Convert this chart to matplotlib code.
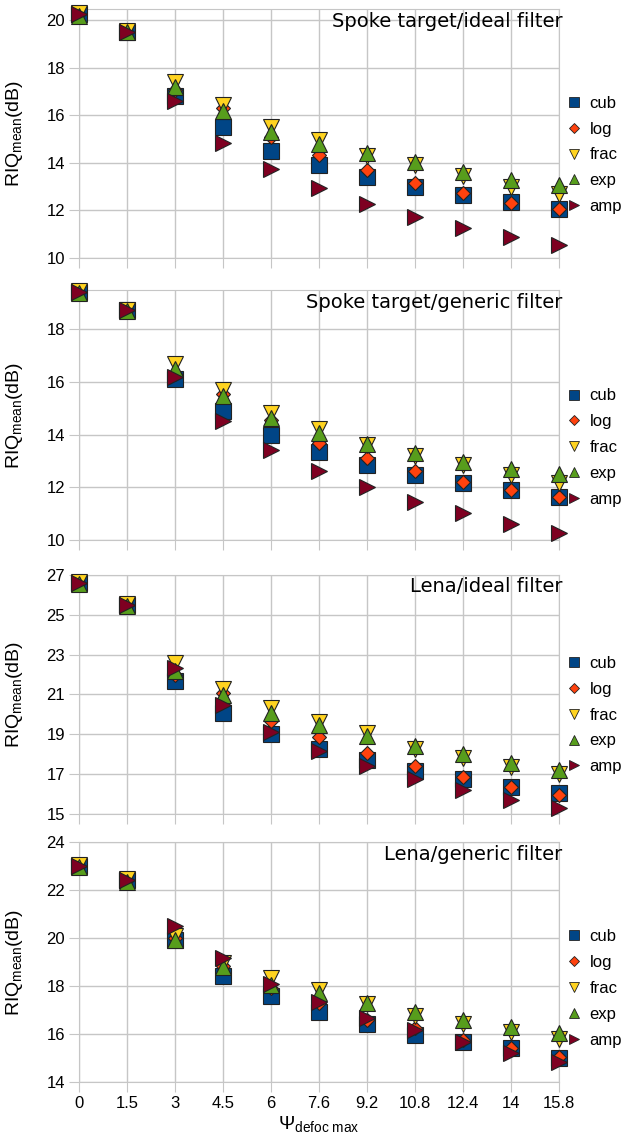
import numpy as np
import matplotlib.pyplot as plt
from matplotlib.lines import Line2D

plt.rcParams['font.family'] = ['Liberation Sans', 'DejaVu Sans']
plt.rcParams['mathtext.fontset'] = 'custom'
plt.rcParams['mathtext.rm'] = 'Liberation Sans'
plt.rcParams['mathtext.it'] = 'Liberation Sans:italic'

x_labels = ['0', '1.5', '3', '4.5', '6', '7.6', '9.2', '10.8', '12.4', '14', '15.8']
series_names = ['cub', 'log', 'frac', 'exp', 'amp']

# spoke target / ideal filter
spoke_ideal_cub = [20.25, 19.5, 16.8, 15.5, 14.5, 13.9, 13.42, 13.0, 12.65, 12.36, 12.06]
spoke_ideal_log = [20.25, 19.5, 17.05, 16.3, 15.1, 14.34, 13.7, 13.17, 12.73, 12.33, 12.06]
spoke_ideal_frac = [20.3, 19.55, 17.4, 16.45, 15.5, 14.97, 14.3, 13.9, 13.45, 13.0, 12.7]
spoke_ideal_exp = [20.2, 19.5, 17.2, 16.2, 15.3, 14.8, 14.4, 14.02, 13.63, 13.3, 13.07]
spoke_ideal_amp = [20.25, 19.52, 16.6, 14.86, 13.74, 12.93, 12.27, 11.73, 11.26, 10.9, 10.55]

# spoke target / generic filter
spoke_gen_cub = [19.4, 18.72, 16.1, 14.88, 14.0, 13.35, 12.86, 12.48, 12.17, 11.9, 11.64]
spoke_gen_log = [19.4, 18.72, 16.3, 15.55, 14.57, 13.7, 13.12, 12.63, 12.2, 11.9, 11.64]
spoke_gen_frac = [19.45, 18.75, 16.67, 15.7, 14.84, 14.22, 13.6, 13.2, 12.85, 12.45, 12.17]
spoke_gen_exp = [19.38, 18.7, 16.48, 15.45, 14.65, 14.07, 13.66, 13.3, 12.95, 12.7, 12.5]
spoke_gen_amp = [19.42, 18.72, 16.17, 14.5, 13.43, 12.63, 12.0, 11.45, 11.03, 10.6, 10.27]

# lena / ideal filter
lena_ideal_cub = [26.6, 25.5, 21.7, 20.05, 19.0, 18.25, 17.7, 17.15, 16.75, 16.35, 16.05]
lena_ideal_log = [26.6, 25.5, 22.0, 21.05, 19.65, 18.85, 18.05, 17.4, 16.85, 16.35, 15.95]
lena_ideal_frac = [26.65, 25.55, 22.6, 21.3, 20.3, 19.6, 19.05, 18.25, 17.8, 17.35, 17.0]
lena_ideal_exp = [26.55, 25.45, 22.2, 20.95, 20.05, 19.45, 18.9, 18.4, 18.0, 17.55, 17.2]
lena_ideal_amp = [26.6, 25.5, 22.35, 20.45, 19.1, 18.15, 17.4, 16.75, 16.2, 15.7, 15.3]

# lena / generic filter
lena_gen_cub = [23.0, 22.4, 19.9, 18.4, 17.6, 16.9, 16.4, 15.95, 15.65, 15.4, 15.0]
lena_gen_log = [23.0, 22.4, 20.0, 18.85, 17.9, 17.3, 16.6, 16.25, 15.75, 15.4, 15.05]
lena_gen_frac = [23.05, 22.45, 20.1, 18.95, 18.35, 17.85, 17.25, 16.75, 16.4, 16.1, 15.8]
lena_gen_exp = [22.95, 22.35, 19.9, 18.8, 18.05, 17.7, 17.3, 16.9, 16.6, 16.3, 16.05]
lena_gen_amp = [23.0, 22.4, 20.5, 19.15, 18.1, 17.35, 16.65, 16.15, 15.65, 15.2, 14.85]

titles = ['Spoke target/ideal filter', 'Spoke target/generic filter',
          'Lena/ideal filter', 'Lena/generic filter']
panels = [
    [spoke_ideal_cub, spoke_ideal_log, spoke_ideal_frac, spoke_ideal_exp, spoke_ideal_amp],
    [spoke_gen_cub, spoke_gen_log, spoke_gen_frac, spoke_gen_exp, spoke_gen_amp],
    [lena_ideal_cub, lena_ideal_log, lena_ideal_frac, lena_ideal_exp, lena_ideal_amp],
    [lena_gen_cub, lena_gen_log, lena_gen_frac, lena_gen_exp, lena_gen_amp],
]
y_limits = [(10, 20.48), (10, 19.49), (15, 27), (14, 24)]
y_ticks = [np.arange(10, 21, 2), np.arange(10, 19, 2), np.arange(15, 28, 2), np.arange(14, 25, 2)]

colors = ['#004586', '#ff420e', '#ffd320', '#579d1c', '#7e0021']
markers = ['s', 'D', 'v', '^', '>']
msizes = [12, 7.5, 11.5, 12, 12]
leg_sizes = [6.5, 5.5, 7, 7, 7]

# axes boxes in figure fraction [left, bottom, width, height]
boxes = [
    [0.127, 0.7737, 0.773, 0.2184],
    [0.127, 0.5263, 0.773, 0.2193],
    [0.127, 0.2860, 0.773, 0.2096],
    [0.127, 0.0509, 0.773, 0.2105],
]
legend_y = [0.414, 0.37, 0.414, 0.39]

fig = plt.figure(figsize=(6.21, 11.4), dpi=100)
x = np.arange(len(x_labels))
grid_c = '#c6c6c6'

for k in range(4):
    ax = fig.add_axes(boxes[k])
    for s in range(5):
        ax.plot(x, panels[k][s], linestyle='none', marker=markers[s], ms=msizes[s],
                color=colors[s], markeredgecolor='#222222', markeredgewidth=0.8,
                clip_on=False, zorder=3 + s)
    ax.set_xlim(0, len(x_labels) - 1)
    ax.set_ylim(*y_limits[k])
    ax.set_yticks(y_ticks[k])
    ax.set_xticks(x)
    if k == 3:
        ax.set_xticklabels(x_labels)
        ax.set_xlabel(r'$\Psi_{\mathrm{defoc\ max}}$', fontsize=14, labelpad=2)
    else:
        ax.set_xticklabels([])
    ax.grid(True, color=grid_c, linewidth=1)
    ax.set_axisbelow(True)
    for sp in ax.spines.values():
        sp.set_color(grid_c)
    ax.tick_params(direction='out', length=7, color=grid_c, labelsize=12, pad=3)
    ax.set_ylabel(r'RIQ$_{\mathrm{mean}}$(dB)', fontsize=14)
    ax.yaxis.set_label_coords(-0.112, 0.5)
    ax.text(1.008, 0.95, titles[k], transform=ax.transAxes, ha='right', va='center',
            fontsize=14, family='DejaVu Sans', zorder=10)
    handles = [Line2D([], [], linestyle='none', marker=markers[s], ms=leg_sizes[s],
                      color=colors[s], markeredgecolor='#222222', markeredgewidth=0.6)
               for s in range(5)]
    ax.legend(handles, series_names, loc='center left', bbox_to_anchor=(1.0, legend_y[k]),
              frameon=False, fontsize=12, handlelength=1.2, handletextpad=0.35,
              labelspacing=0.65, borderaxespad=0.3, borderpad=0)

fig.savefig('out.png', dpi=100)
